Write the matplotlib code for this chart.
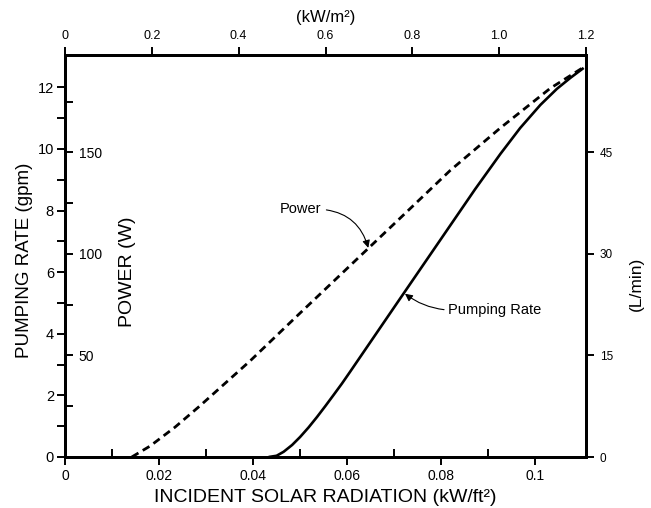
import numpy as np
import matplotlib
matplotlib.use('Agg')
import matplotlib.pyplot as plt

plt.rcParams['font.family'] = 'Liberation Sans'

# ── Data ──────────────────────────────────────────────────────────────────────

# Incident solar radiation (kW/ft²) vs. array power (W)
power_x = [0.0142, 0.0181, 0.0234, 0.0287, 0.0394, 0.0500, 0.0606,
           0.0713, 0.0819, 0.0926, 0.1032, 0.1103]
power_w = [0, 5.4, 14.7, 25.2, 47.4, 70.9, 94.2,
           117.7, 141.1, 162.1, 181.6, 192.0]

# Incident solar radiation (kW/ft²) vs. pumping rate (gpm)
pump_x = [0.0433, 0.0450, 0.0465, 0.0483, 0.0500, 0.0518, 0.0536, 0.0554,
          0.0571, 0.0589, 0.0606, 0.0649, 0.0713, 0.0766, 0.0819, 0.0872,
          0.0926, 0.0968, 0.1011, 0.1046, 0.1075, 0.1103]
pump_gpm = [0, 0.04, 0.17, 0.39, 0.65, 0.96, 1.30, 1.66,
            2.01, 2.385, 2.76, 3.72, 5.15, 6.33, 7.51, 8.69,
            9.84, 10.68, 11.43, 11.95, 12.31, 12.63]

x_ticks = [0, 0.02, 0.04, 0.06, 0.08, 0.1]
x_labels = ['0', '0.02', '0.04', '0.06', '0.08', '0.1']
top_ticks = [0, 0.2, 0.4, 0.6, 0.8, 1.0, 1.2]
top_labels = ['0', '0.2', '0.4', '0.6', '0.8', '1.0', '1.2']
gpm_ticks = [0, 2, 4, 6, 8, 10, 12]
power_ticks = [50, 100, 150]
lmin_ticks = [0, 15, 30, 45]

X_MAX = 0.1108
GPM_MAX = 13.05
POWER_MAX = 198
LMIN_MAX = POWER_MAX * 0.3

# ── Figure ────────────────────────────────────────────────────────────────────

fig = plt.figure(figsize=(6.51, 5.08), dpi=100)
ax = fig.add_axes([65 / 651, 1 - 457 / 508, 521 / 651, 402 / 508])

SPINE_W = 2.0
TICK_W = 1.4

# main axes: pumping rate (left) + radiation kW/ft² (bottom)
ax.set_xlim(0, X_MAX)
ax.set_ylim(0, GPM_MAX)
ax.set_xticks(x_ticks)
ax.set_xticklabels(x_labels)
ax.set_xticks(np.arange(0.01, 0.105, 0.02), minor=True)
ax.set_yticks(gpm_ticks)
ax.set_yticks(np.arange(1, 12, 2), minor=True)
ax.tick_params(axis='x', which='major', direction='out', length=6,
               width=TICK_W, labelsize=10, pad=3)
ax.tick_params(axis='x', which='minor', direction='in', length=6, width=TICK_W)
ax.tick_params(axis='y', which='both', direction='out', length=6,
               width=TICK_W, labelsize=10.5, pad=2)
ax.tick_params(top=False, right=False)
for s in ax.spines.values():
    s.set_linewidth(SPINE_W)

ax.set_xlabel('INCIDENT SOLAR RADIATION (kW/ft²)', fontsize=14, labelpad=4)
ax.set_ylabel('PUMPING RATE (gpm)', fontsize=13.5)
ax.yaxis.set_label_coords(-0.062, 0.49)

ax.plot(pump_x, pump_gpm, color='black', lw=1.9, solid_capstyle='butt',
        solid_joinstyle='round')

# top axis: kW/m²
axt = ax.twiny()
axt.set_xlim(0, 1.2)
axt.set_xticks(top_ticks)
axt.set_xticklabels(top_labels)
axt.tick_params(axis='x', direction='out', length=6, width=TICK_W,
                labelsize=9, pad=3)
axt.set_xlabel('(kW/m²)', fontsize=12, labelpad=6)
for s in axt.spines.values():
    s.set_linewidth(SPINE_W)

# power axis drawn on the left spine, ticks and labels inside the plot
axp = ax.twinx()
axp.spines['right'].set_position(('axes', 0.0))
axp.set_ylim(0, POWER_MAX)
axp.set_yticks(power_ticks)
axp.set_yticks([25, 75, 125, 175], minor=True)
axp.tick_params(axis='y', which='both', direction='out', length=6,
                width=TICK_W, labelsize=10, pad=4)
axp.set_ylabel('POWER (W)', fontsize=14)
axp.yaxis.set_label_coords(0.103, 0.46)
for s in axp.spines.values():
    s.set_linewidth(SPINE_W)

axp.plot(power_x, power_w, color='black', lw=2.0, dashes=(2.8, 1.8),
         dash_capstyle='butt')

# right axis: L/min
axl = ax.twinx()
axl.set_ylim(0, LMIN_MAX)
axl.set_yticks(lmin_ticks)
axl.tick_params(axis='y', direction='out', length=6, width=TICK_W,
                labelsize=8.5, pad=4)
axl.set_ylabel('(L/min)', fontsize=12.5)
axl.yaxis.set_label_coords(1.083, 0.43)
for s in axl.spines.values():
    s.set_linewidth(SPINE_W)

# ── Curve labels ──────────────────────────────────────────────────────────────

axp.annotate('Power', xy=(0.0645, 103), xytext=(0.0500, 122),
             ha='center', va='center', fontsize=10.5,
             arrowprops=dict(arrowstyle='-|>', color='black', lw=0.8,
                             mutation_scale=11, relpos=(1, 0.5),
                             connectionstyle='arc3,rad=-0.35',
                             shrinkA=2, shrinkB=0))

ax.annotate('Pumping Rate', xy=(0.0723, 5.3), xytext=(0.0815, 4.77),
            ha='left', va='center', fontsize=10.5,
            arrowprops=dict(arrowstyle='-|>', color='black', lw=0.8,
                            mutation_scale=11, relpos=(0, 0.5),
                            connectionstyle='arc3,rad=-0.15',
                            shrinkA=1, shrinkB=0))

fig.savefig('out.png', dpi=100)
